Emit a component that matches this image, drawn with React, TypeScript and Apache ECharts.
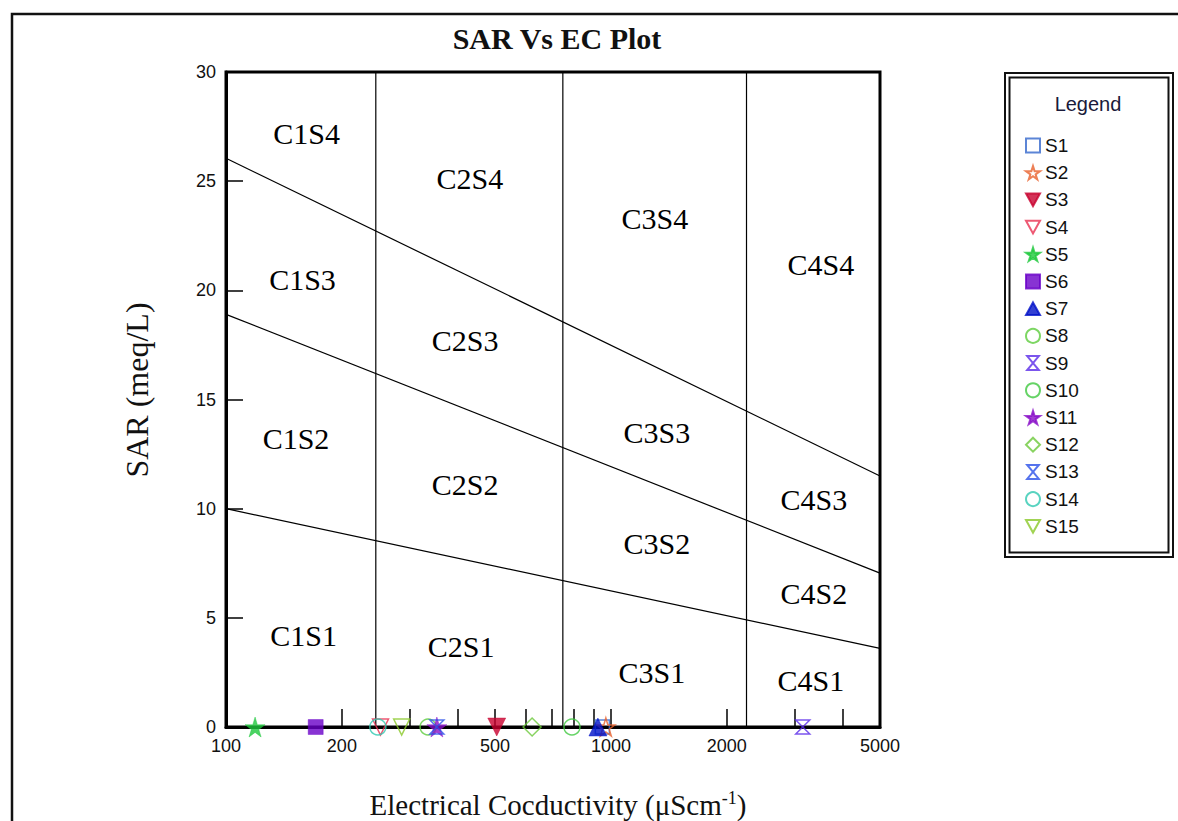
import React, { useEffect, useRef } from 'react';
import * as echarts from 'echarts';

// ---- sample data (EC in µS/cm, SAR in meq/L) ----
const sampleNames = ['S1', 'S2', 'S3', 'S4', 'S5', 'S6', 'S7', 'S8', 'S9', 'S10', 'S11', 'S12', 'S13', 'S14', 'S15'];
const sampleEC = [950, 970, 505, 252, 119, 171, 925, 335, 3150, 792, 353, 624, 353, 248, 286];
const sampleSAR = [0, 0, 0, 0, 0, 0, 0, 0, 0, 0, 0, 0, 0, 0, 0];
const sampleColors = ['#3366cc', '#e8602c', '#c8002e', '#e83050', '#1ec83c', '#6a00c8', '#0010c8', '#5ccc3c', '#5a2ae8', '#40c840', '#8a10c8', '#6cc83a', '#2a50e8', '#30c8b0', '#8ac828'];

const STAR = 'path://M50,0 L61,35 L98,35 L68,57 L79,91 L50,70 L21,91 L32,57 L2,35 L39,35 Z';
const TRI_DOWN = 'path://M0,0 L10,0 L5,9 Z';
const TRI_UP = 'path://M5,0 L10,9 L0,9 Z';
const HOURGLASS = 'path://M0,0 L10,0 L0,12 L10,12 Z';
const sampleSymbols = ['rect', STAR, TRI_DOWN, TRI_DOWN, STAR, 'rect', TRI_UP, 'circle', HOURGLASS, 'circle', STAR, 'diamond', HOURGLASS, 'circle', TRI_DOWN];
const sampleFilled = [false, false, true, false, true, true, true, false, false, false, true, false, false, false, false];
const sampleSizes = [14, 18, 18, 16, 20, 15, 18, 16, 14, 16, 20, 18, 14, 16, 16];

// ---- classification zones ----
const zoneNames = ['C1S4', 'C1S3', 'C1S2', 'C1S1', 'C2S4', 'C2S3', 'C2S2', 'C2S1', 'C3S4', 'C3S3', 'C3S2', 'C3S1', 'C4S4', 'C4S3', 'C4S2', 'C4S1'];
const zoneEC = [162, 158, 152, 159, 430, 418, 418, 408, 1300, 1316, 1316, 1277, 3510, 3368, 3368, 3307];
const zoneSAR = [27.2, 20.5, 13.2, 4.2, 25.1, 17.7, 11.1, 3.7, 23.3, 13.5, 8.4, 2.5, 21.2, 10.4, 6.1, 2.15];

// ---- boundary lines ----
const boundaryEC = [100, 5000];
const s1s2SAR = [10, 3.6];
const s2s3SAR = [18.9, 7.05];
const s3s4SAR = [26.05, 11.5];
const classEC = [245, 750, 2250];
const sarRange = [0, 30];

// ---- axis ticks ----
const xLabelValues = [100, 200, 500, 1000, 2000, 5000];
const xTickValues = [200, 300, 400, 500, 600, 700, 800, 900, 1000, 2000, 3000, 4000];

const SERIF = '"Liberation Serif", "Times New Roman", serif';
const SANS = '"Liberation Sans", Arial, sans-serif';

export default function App() {
  const ref = useRef<HTMLDivElement>(null);

  useEffect(() => {
    if (!ref.current) return;
    const chart = echarts.init(ref.current, undefined, { renderer: 'svg' });

    const thinLine = { color: '#000', width: 1.2 };

    const boundarySeries: any[] = [s1s2SAR, s2s3SAR, s3s4SAR].map((ys) => ({
      type: 'line',
      data: boundaryEC.map((x, i) => [x, ys[i]]),
      symbol: 'none',
      lineStyle: thinLine,
      silent: true,
      z: 3,
    }));
    const classSeries: any[] = classEC.map((x) => ({
      type: 'line',
      data: sarRange.map((y) => [x, y]),
      symbol: 'none',
      lineStyle: thinLine,
      silent: true,
      z: 3,
    }));

    const zoneSeries: any = {
      type: 'scatter',
      data: zoneNames.map((n, i) => [zoneEC[i], zoneSAR[i], n]),
      symbolSize: 1,
      itemStyle: { color: 'rgba(0,0,0,0)' },
      silent: true,
      label: {
        show: true,
        position: 'inside',
        formatter: (p: any) => p.data[2],
        fontFamily: SERIF,
        fontSize: 30,
        color: '#000',
        opacity: 1,
        textBorderWidth: 0,
      },
      z: 4,
    };

    const sampleSeries: any[] = sampleNames.map((n, i) => ({
      type: 'scatter',
      name: n,
      data: [[sampleEC[i], sampleSAR[i]]],
      symbol: sampleSymbols[i],
      symbolSize: sampleSizes[i],
      clip: false,
      itemStyle: sampleFilled[i]
        ? { color: sampleColors[i], borderColor: sampleColors[i], borderWidth: 0.5 }
        : { color: 'rgba(255,255,255,0)', borderColor: sampleColors[i], borderWidth: 1.5 },
      z: 10 + i,
    }));

    chart.setOption({
      animation: false,
      backgroundColor: '#fff',
      grid: {
        left: 226,
        top: 72,
        width: 654,
        height: 655,
        show: true,
        borderColor: '#000',
        borderWidth: 3,
        backgroundColor: 'rgba(0,0,0,0)',
        containLabel: false,
        outerBoundsMode: 'none',
      },
      xAxis: {
        type: 'log',
        logBase: 10,
        min: 100,
        max: 5000,
        name: '{a|Electrical Cocductivity (μScm}{s|-1}{a|)}',
        nameLocation: 'middle',
        nameGap: 62,
        nameTextStyle: {
          padding: [0, 0, 0, 10],
          rich: {
            a: { fontFamily: SERIF, fontSize: 29, color: '#111', lineHeight: 32 },
            s: { fontFamily: SERIF, fontSize: 18, color: '#111', verticalAlign: 'top', lineHeight: 32, padding: [0, 0, 14, 0] },
          },
        },
        axisLine: { show: true, onZero: false, lineStyle: { color: '#000', width: 3 } },
        axisTick: { show: true, inside: true, length: 18, customValues: xTickValues, lineStyle: { color: '#000', width: 1.5 } },
        minorTick: { show: false },
        axisLabel: {
          customValues: xLabelValues,
          formatter: (v: number) => String(v),
          fontFamily: SANS,
          fontSize: 18,
          color: '#111',
          margin: 10,
        },
        splitLine: { show: false },
      },
      yAxis: {
        type: 'value',
        min: 0,
        max: 30,
        interval: 5,
        axisLine: { show: true, lineStyle: { color: '#000', width: 3 } },
        axisTick: { show: true, inside: true, length: 17, lineStyle: { color: '#000', width: 1.5 } },
        axisLabel: { fontFamily: SANS, fontSize: 18, color: '#111', margin: 10 },
        splitLine: { show: false },
      },
      legend: {
        orient: 'vertical',
        left: 1020,
        top: 131,
        itemWidth: 14,
        itemHeight: 14,
        itemGap: 8.2,
        data: sampleNames,
        textStyle: { fontFamily: SANS, fontSize: 19, color: '#111' },
        selectedMode: false,
      },
      graphic: [
        {
          type: 'polyline',
          shape: { points: [[12, 821], [12, 14], [1178, 14]] },
          style: { stroke: '#111', lineWidth: 2.5, fill: 'none' },
          silent: true,
        },
        {
          type: 'rect',
          shape: { x: 1005, y: 73, width: 168, height: 484 },
          style: { stroke: '#111', lineWidth: 2, fill: 'none' },
          silent: true,
        },
        {
          type: 'rect',
          shape: { x: 1009.5, y: 77.5, width: 159, height: 475 },
          style: { stroke: '#111', lineWidth: 2, fill: 'none' },
          silent: true,
        },
        {
          type: 'text',
          x: 1088,
          y: 104,
          style: { text: 'Legend', fontFamily: SANS, fontSize: 20, fill: '#1a1a3a', textAlign: 'center', textVerticalAlign: 'middle' },
          silent: true,
        },
        {
          type: 'text',
          x: 557,
          y: 38,
          style: { text: 'SAR Vs EC Plot', fontFamily: SERIF, fontSize: 30, fontWeight: 'bold', fill: '#111', textAlign: 'center', textVerticalAlign: 'middle' },
          silent: true,
        },
        {
          type: 'text',
          x: 137,
          y: 390,
          rotation: Math.PI / 2,
          style: { text: 'SAR (meq/L)', fontFamily: SERIF, fontSize: 32, fill: '#111', textAlign: 'center', textVerticalAlign: 'middle' },
          silent: true,
        },
      ],
      series: [...boundarySeries, ...classSeries, zoneSeries, ...sampleSeries],
    });

    return () => chart.dispose();
  }, []);

  return (
    <div
      ref={ref}
      style={{ position: 'fixed', left: 0, top: 0, width: 1178, height: 821, background: '#fff' }}
    />
  );
}
